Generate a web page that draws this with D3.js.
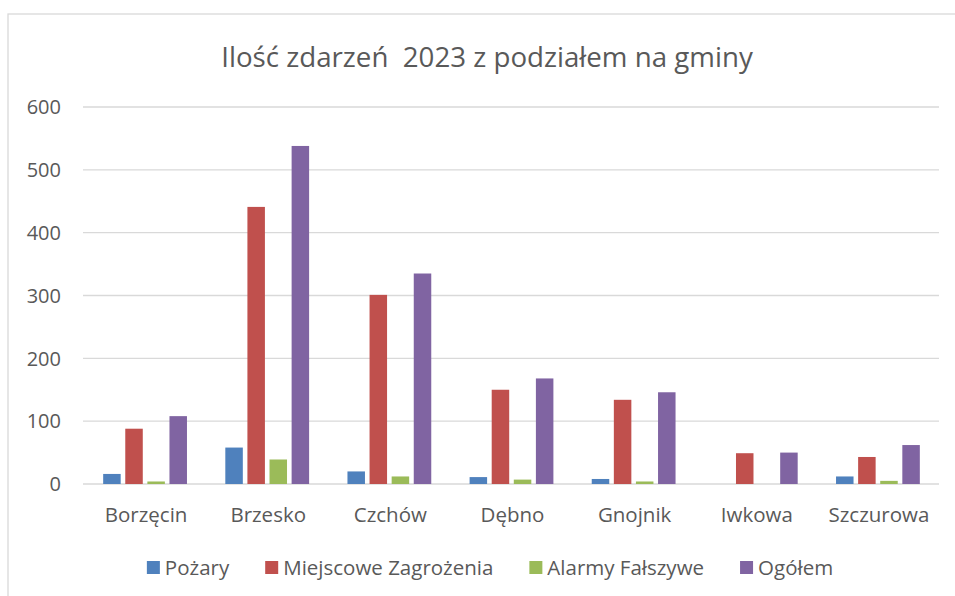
<!DOCTYPE html>
<html>
<head>
<meta charset="utf-8">
<script src="https://cdn.jsdelivr.net/npm/d3@7"></script>
<style>
  html, body { margin: 0; padding: 0; background: #fff; }
  svg { display: block; font-family: 'Open Sans', sans-serif; }
</style>
</head>
<body>
<div id="chart"></div>
<script>
// ── Dane ──
const gminy = ['Borzęcin', 'Brzesko', 'Czchów', 'Dębno', 'Gnojnik', 'Iwkowa', 'Szczurowa'];
const serie = ['Pożary', 'Miejscowe Zagrożenia', 'Alarmy Fałszywe', 'Ogółem'];
const pozary = [16, 58, 20, 11, 8, 0, 12];
const miejscowe = [88, 441, 301, 150, 134, 49, 43];
const alarmy = [4, 39, 12, 7, 4, 0, 5];
const ogolem = [108, 538, 335, 168, 146, 50, 62];
const ticksY = [0, 100, 200, 300, 400, 500, 600];
const tytul = 'Ilość zdarzeń  2023 z podziałem na gminy';

const KOLORY = ['#4F81BD', '#C0504D', '#9BBB59', '#8064A2'];
const TEKST = '#595959';
const SIATKA = '#D9D9D9';

const W = 955, H = 596;
const wartosci = [pozary, miejscowe, alarmy, ogolem];

const svg = d3.select('#chart').append('svg')
  .attr('width', W).attr('height', H);

// ramka wykresu
svg.append('rect')
  .attr('x', 8).attr('y', 14)
  .attr('width', 980).attr('height', 620)
  .attr('fill', '#fff')
  .attr('stroke', SIATKA).attr('stroke-width', 1.3);

// ── Skale ──
const x0 = d3.scaleBand().domain(gminy).range([84, 939]).padding(0);
const bw = x0.bandwidth();
const x1 = d3.scaleBand().domain(serie)
  .range([bw / 2 - 41.9, bw / 2 + 41.9])
  .paddingInner(0.208).paddingOuter(0);
const y = d3.scaleLinear().domain([0, 600]).range([484, 107]);

// ── Siatka ──
svg.append('g').selectAll('line')
  .data(ticksY).enter().append('line')
  .attr('x1', 83).attr('x2', 939)
  .attr('y1', d => y(d)).attr('y2', d => y(d))
  .attr('stroke', SIATKA).attr('stroke-width', 1.3);

// Oś Y
svg.append('g').selectAll('text')
  .data(ticksY).enter().append('text')
  .attr('x', 61).attr('y', d => y(d))
  .attr('dy', '0.36em')
  .attr('text-anchor', 'end')
  .attr('fill', TEKST)
  .style('font-size', '20px')
  .text(d => d);

// ── Słupki ──
const grupy = svg.append('g').selectAll('g')
  .data(gminy).enter().append('g')
  .attr('transform', d => `translate(${x0(d)},0)`);

grupy.selectAll('rect')
  .data((g, i) => serie.map((s, k) => ({ seria: s, k, v: wartosci[k][i] })))
  .enter().append('rect')
  .filter(d => d.v > 0)
  .attr('x', d => x1(d.seria))
  .attr('y', d => y(d.v))
  .attr('width', x1.bandwidth())
  .attr('height', d => y(0) - y(d.v))
  .attr('fill', d => KOLORY[d.k]);

// Oś X – etykiety
svg.append('g').selectAll('text')
  .data(gminy).enter().append('text')
  .attr('x', d => x0(d) + bw / 2 + 1)
  .attr('y', 522)
  .attr('text-anchor', 'middle')
  .attr('fill', TEKST)
  .style('font-size', '20.5px')
  .text(d => d);

// ── Tytuł ──
svg.append('text')
  .attr('x', 487).attr('y', 67)
  .attr('text-anchor', 'middle')
  .attr('fill', TEKST)
  .style('font-size', '27.7px')
  .style('white-space', 'pre')
  .attr('xml:space', 'preserve')
  .text(tytul);

// ── Legenda ──
const leg = svg.append('g');
let lx = 0;
serie.forEach((s, k) => {
  const it = leg.append('g').attr('transform', `translate(${lx},0)`);
  it.append('rect')
    .attr('x', 0).attr('y', 561)
    .attr('width', 13).attr('height', 13)
    .attr('fill', KOLORY[k]);
  const t = it.append('text')
    .attr('x', 18).attr('y', 575)
    .attr('fill', TEKST)
    .style('font-size', '20.5px')
    .text(s);
  lx += 18 + t.node().getComputedTextLength() + 36;
});
const legW = lx - 36;
leg.attr('transform', `translate(${490 - legW / 2},0)`);
</script>
</body>
</html>
